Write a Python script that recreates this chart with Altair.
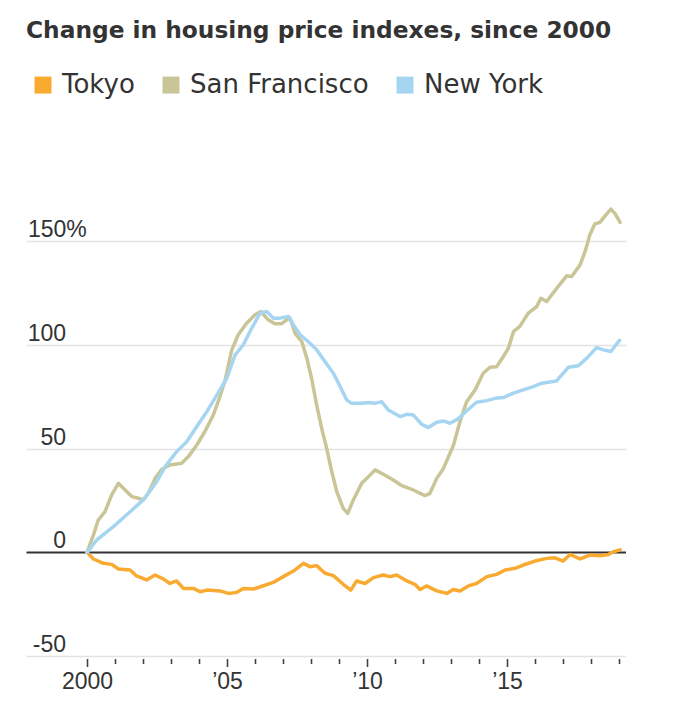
import altair as alt
import pandas as pd

# ---- data (percent change since 2000) ----
sf_year = [2000.0, 2000.23, 2000.4, 2000.64, 2000.88, 2001.12, 2001.36, 2001.6, 2001.83, 2002.01,
           2002.19, 2002.43, 2002.67, 2002.96, 2003.38, 2003.62, 2003.92, 2004.21, 2004.51, 2004.75,
           2004.93, 2005.17, 2005.4, 2005.7, 2006.0, 2006.21, 2006.47, 2006.71, 2006.95, 2007.13,
           2007.25, 2007.43, 2007.67, 2007.85, 2008.02, 2008.2, 2008.38, 2008.56, 2008.74, 2008.92,
           2009.15, 2009.31, 2009.51, 2009.81, 2010.05, 2010.29, 2010.58, 2010.94, 2011.24, 2011.65,
           2012.07, 2012.25, 2012.49, 2012.73, 2013.09, 2013.32, 2013.56, 2013.86, 2014.15, 2014.39,
           2014.63, 2014.87, 2015.05, 2015.23, 2015.46, 2015.76, 2016.06, 2016.21, 2016.42, 2016.6,
           2016.83, 2017.13, 2017.31, 2017.61, 2017.79, 2017.96, 2018.14, 2018.32, 2018.54, 2018.71,
           2018.86, 2019.04]
sf_val = [0, 8.4, 15.6, 19.6, 27.7, 33.3, 30.1, 26.9, 26.1, 25.3,
          28.5, 35.7, 40.1, 42.2, 43.0, 46.2, 51.8, 58.3, 66.3, 75.2,
          83.0, 97.7, 105.0, 110.5, 114.6, 116.2, 112.2, 110.3, 110.3, 112.2,
          113.0, 105.7, 101.7, 93.7, 84.0, 71.2, 59.9, 50.2, 39.0, 29.3,
          21.2, 18.8, 25.3, 33.3, 36.5, 39.8, 37.7, 34.9, 32.2, 30.1,
          27.4, 28.5, 35.7, 40.5, 51.8, 63.1, 72.7, 78.4, 86.4, 89.3,
          89.6, 94.5, 98.5, 106.5, 109.0, 115.4, 118.6, 122.6, 121.0, 124.3,
          128.3, 133.4, 133.1, 138.7, 145.2, 153.2, 158.5, 159.2, 162.9, 165.6,
          163.4, 159.2]

ny_year = [2000.0, 2000.35, 2000.94, 2001.54, 2002.01, 2002.49, 2002.79, 2003.2, 2003.56, 2003.92,
           2004.28, 2004.64, 2004.99, 2005.29, 2005.58, 2005.88, 2006.18, 2006.42, 2006.65, 2006.89,
           2007.19, 2007.37, 2007.61, 2007.9, 2008.2, 2008.5, 2008.8, 2009.04, 2009.27, 2009.45,
           2009.81, 2010.05, 2010.29, 2010.52, 2010.76, 2011.18, 2011.42, 2011.65, 2011.95, 2012.19,
           2012.49, 2012.73, 2012.96, 2013.26, 2013.56, 2013.91, 2014.28, 2014.57, 2014.87, 2015.23,
           2015.58, 2015.94, 2016.24, 2016.77, 2017.19, 2017.55, 2017.85, 2018.2, 2018.44, 2018.71,
           2019.02]
ny_val = [0, 6.0, 12.4, 19.6, 25.3, 34.1, 41.4, 48.6, 53.4, 60.7,
          67.9, 76.0, 84.0, 95.3, 100.1, 108.1, 115.4, 116.2, 113.0, 113.0,
          113.8, 109.8, 105.0, 101.7, 97.7, 92.0, 86.4, 80.0, 73.6, 71.9,
          71.9, 72.3, 71.9, 72.7, 68.7, 65.5, 66.6, 66.3, 61.8, 60.2,
          62.8, 63.4, 62.3, 64.4, 68.3, 72.4, 73.2, 74.3, 74.7, 76.8,
          78.4, 80.0, 81.6, 82.7, 89.3, 90.0, 93.7, 98.8, 97.7, 96.9,
          102.3]

tk_year = [2000.0, 2000.23, 2000.58, 2000.88, 2001.12, 2001.54, 2001.77, 2002.13, 2002.43, 2002.72,
           2002.96, 2003.2, 2003.44, 2003.8, 2004.04, 2004.28, 2004.75, 2005.05, 2005.35, 2005.58,
           2005.94, 2006.3, 2006.65, 2007.01, 2007.37, 2007.73, 2007.96, 2008.2, 2008.5, 2008.8,
           2009.15, 2009.42, 2009.63, 2009.93, 2010.23, 2010.58, 2010.82, 2011.06, 2011.42, 2011.71,
           2011.89, 2012.13, 2012.49, 2012.85, 2013.08, 2013.32, 2013.62, 2013.91, 2014.28, 2014.63,
           2014.93, 2015.29, 2015.58, 2016.0, 2016.42, 2016.71, 2017.01, 2017.25, 2017.61, 2017.96,
           2018.32, 2018.62, 2018.8, 2019.04]
tk_val = [0, -3.2, -5.3, -5.8, -8.0, -8.5, -11.4, -13.3, -10.9, -12.8,
          -15.0, -13.8, -17.4, -17.4, -19.0, -18.2, -18.6, -19.8, -19.3, -17.4,
          -17.7, -16.1, -14.5, -11.7, -9.0, -5.3, -6.9, -6.4, -10.1, -11.2,
          -15.4, -18.2, -13.8, -15.0, -12.2, -10.9, -11.7, -10.9, -13.8, -15.4,
          -17.9, -16.2, -18.6, -19.8, -17.9, -18.6, -16.2, -15.0, -11.7, -10.6,
          -8.5, -7.7, -6.1, -4.2, -2.9, -2.6, -4.2, -1.0, -3.2, -1.3,
          -1.6, -1.0, 0.3, 1.2]

cities = ["Tokyo", "San Francisco", "New York"]
colors = ["#F9AA31", "#C9C597", "#A6D5F1"]
y_ticks = [-50, 0, 50, 100, 150]
x_ticks = list(range(2000, 2020))

df = pd.concat([
    pd.DataFrame({"year": tk_year, "value": tk_val, "city": "Tokyo"}),
    pd.DataFrame({"year": sf_year, "value": sf_val, "city": "San Francisco"}),
    pd.DataFrame({"year": ny_year, "value": ny_val, "city": "New York"}),
])
df["order"] = df["city"].map({c: i for i, c in enumerate(cities)})

TEXT = "#333333"
LABEL_FONT = "Liberation Sans"

chart = alt.Chart(df).mark_line(strokeWidth=3.5, strokeCap="round", strokeJoin="round").encode(
    x=alt.X("year:Q",
            scale=alt.Scale(domain=[1997.82, 2019.25], nice=False, zero=False),
            axis=alt.Axis(values=x_ticks, title=None, domain=False, grid=False,
                          labelExpr="datum.value == 2000 ? '2000' : (datum.value % 5 == 0 ? '\u2019' + substring('' + datum.value, 2, 4) : '')",
                          tickSize={"condition": {"test": "datum.value % 5 == 0", "value": 8}, "value": 5},
                          tickColor="#444444", tickWidth=1.6, offset=2.5,
                          labelPadding=4, labelFont=LABEL_FONT, labelFontSize=23,
                          labelColor=TEXT, labelOverlap=False, labelFlush=False)),
    y=alt.Y("value:Q",
            scale=alt.Scale(domain=[-50, 170], nice=False, zero=False),
            axis=alt.Axis(values=y_ticks, title=None, domain=False, ticks=False, tickSize=0,
                          grid=True,
                          gridColor={"condition": {"test": "datum.value == 0", "value": "#333333"}, "value": "#E3E3E3"},
                          gridWidth={"condition": {"test": "datum.value == 0", "value": 1.8}, "value": 1.6},
                          labelExpr="datum.value == 150 ? '150%' : '' + datum.value",
                          labelAlign={"condition": {"test": "datum.value == 150", "value": "left"}, "value": "right"},
                          labelBaseline="alphabetic", labelOffset=-4.5,
                          labelPadding={"condition": {"test": "datum.value == 150", "value": -1.5}, "value": -39.5},
                          labelFont=LABEL_FONT, labelFontSize=23, labelColor=TEXT)),
    color=alt.Color("city:N",
                    scale=alt.Scale(domain=cities, range=colors),
                    legend=alt.Legend(title=None, orient="none", legendX=4, legendY=-128.3, padding=0,
                                      direction="horizontal", symbolType="square", symbolSize=72,
                                      symbolStrokeWidth=8.5, labelFont="DejaVu Sans", labelFontSize=26,
                                      labelColor=TEXT, labelOffset=6, columnPadding=14, labelLimit=400)),
    order=alt.Order("order:Q"),
    detail="city:N",
).properties(
    width=600,
    height=456,
    title=alt.TitleParams("Change in housing price indexes, since 2000", anchor="start",
                          font="DejaVu Sans", fontSize=23.3, fontWeight="bold", color=TEXT, offset=28),
    padding={"left": 18, "top": 11, "right": 0, "bottom": 0},
).configure_view(stroke=None)

chart.save("out.html", embed_options={"renderer": "svg", "actions": False})
